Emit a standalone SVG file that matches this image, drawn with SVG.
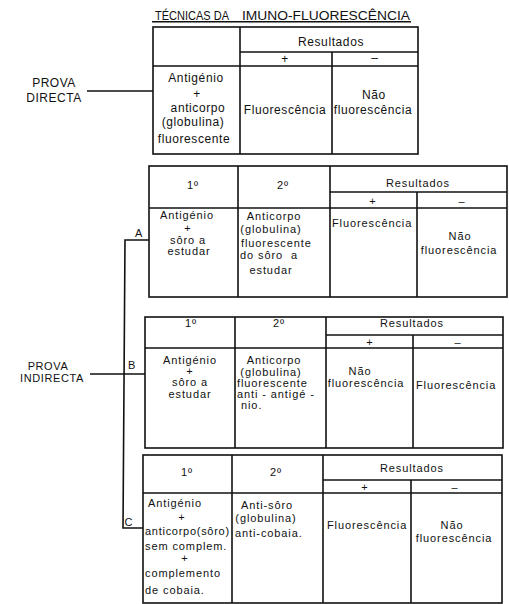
<svg xmlns="http://www.w3.org/2000/svg" width="509" height="604" viewBox="0 0 509 604">
<style>
.t{font-family:"Liberation Sans",Arial,sans-serif;font-size:11px;fill:#111;letter-spacing:0.9px}
.b{font-size:12px;letter-spacing:0.6px}
.m{text-anchor:middle}
.ln{stroke:#111;stroke-width:1.6;fill:none}
.pre{white-space:pre}
</style>
<rect width="509" height="604" fill="#fff"/>
<g id="title">
<text class="t" x="155" y="19.5" style="font-size:12px;letter-spacing:0" textLength="74" lengthAdjust="spacingAndGlyphs">TÉCNICAS DA</text>
<text class="t" x="242" y="19.5" style="font-size:12px;letter-spacing:0" textLength="168" lengthAdjust="spacingAndGlyphs">IMUNO-FLUORESCÊNCIA</text>
<line class="ln" x1="152" y1="21.8" x2="411" y2="21.8" stroke-width="1.2"/>
</g>
<g id="prova-directa">
<text class="t b m" x="54" y="87" style="letter-spacing:0.5px">PROVA</text>
<text class="t b m" x="54" y="102" style="letter-spacing:0.5px">DIRECTA</text>
</g>
<g id="prova-indirecta">
<text class="t m" x="48" y="370" style="letter-spacing:0.6px">PROVA</text>
<text class="t m" x="52" y="381.5" style="letter-spacing:0.6px">INDIRECTA</text>
</g>
<g id="connectors">
<line class="ln" x1="87" y1="91" x2="153" y2="91"/>
<line class="ln" x1="90" y1="374" x2="145" y2="374"/>
<path class="ln" d="M149 240 H125 L123 528 H143"/>
<text class="t m" x="139" y="237">A</text>
<text class="t m" x="132" y="369">B</text>
<text class="t m" x="129" y="526">C</text>
</g>
<g id="table-directa">
<rect class="ln" x="153" y="27" width="265" height="127"/>
<line class="ln" x1="240" y1="27" x2="240" y2="154"/>
<line class="ln" x1="240" y1="52" x2="418" y2="52"/>
<line class="ln" x1="153" y1="66" x2="418" y2="66"/>
<line class="ln" x1="332" y1="52" x2="332" y2="154"/>
<text class="t b m" x="331" y="46">Resultados</text>
<text class="t b m" x="285" y="63">+</text>
<text class="t b m" x="375" y="62">–</text>
<text class="t b m" x="196" y="82">Antigénio</text>
<text class="t b m" x="197" y="98">+</text>
<text class="t b m" x="198" y="112">anticorpo</text>
<text class="t b m" x="193" y="126">(globulina)</text>
<text class="t b m" x="194" y="143">fluorescente</text>
<text class="t b m" x="285" y="114">Fluorescência</text>
<text class="t b m" x="374" y="99">Não</text>
<text class="t b m" x="373" y="114">fluorescência</text>
</g>
<g id="table-a">
<rect class="ln" x="149" y="166" width="358" height="131"/>
<line class="ln" x1="238" y1="166" x2="238" y2="297"/>
<line class="ln" x1="330" y1="166" x2="330" y2="297"/>
<line class="ln" x1="330" y1="192" x2="507" y2="192"/>
<line class="ln" x1="149" y1="208" x2="507" y2="208"/>
<line class="ln" x1="417" y1="192" x2="417" y2="297"/>
<text class="t m" x="193" y="189">1º</text>
<text class="t m" x="283" y="189">2º</text>
<text class="t m" x="418" y="187">Resultados</text>
<text class="t m" x="373" y="205">+</text>
<text class="t m" x="462" y="205">–</text>
<text class="t m" x="187" y="219">Antigénio</text>
<text class="t m" x="188" y="232">+</text>
<text class="t m" x="188" y="244">sôro a</text>
<text class="t m" x="189" y="255">estudar</text>
<text class="t m" x="274" y="220">Anticorpo</text>
<text class="t m" x="271" y="233">(globulina)</text>
<text class="t" x="241" y="247">fluorescente</text>
<text class="t pre" x="240" y="259">do sôro  a</text>
<text class="t m" x="271" y="274">estudar</text>
<text class="t" x="332" y="227">Fluorescência</text>
<text class="t m" x="460" y="240">Não</text>
<text class="t m" x="459" y="254">fluorescência</text>
</g>
<g id="table-b">
<rect class="ln" x="145" y="317" width="358" height="131"/>
<line class="ln" x1="235" y1="317" x2="235" y2="448"/>
<line class="ln" x1="326" y1="317" x2="326" y2="448"/>
<line class="ln" x1="326" y1="335" x2="503" y2="335"/>
<line class="ln" x1="145" y1="348" x2="503" y2="348"/>
<line class="ln" x1="413" y1="335" x2="413" y2="448"/>
<text class="t m" x="191" y="327">1º</text>
<text class="t m" x="279" y="327">2º</text>
<text class="t m" x="412" y="327">Resultados</text>
<text class="t m" x="370" y="346">+</text>
<text class="t m" x="458" y="346">–</text>
<text class="t m" x="190" y="364">Antigénio</text>
<text class="t m" x="190" y="375">+</text>
<text class="t m" x="190" y="386">sôro a</text>
<text class="t m" x="190" y="398">estudar</text>
<text class="t m" x="274" y="364">Anticorpo</text>
<text class="t m" x="271" y="376">(globulina)</text>
<text class="t" x="237" y="387">fluorescente</text>
<text class="t" x="237" y="398">anti - antigé -</text>
<text class="t" x="241" y="409">nio.</text>
<text class="t m" x="360" y="375">Não</text>
<text class="t m" x="366" y="387">fluorescência</text>
<text class="t" x="416" y="389">Fluorescência</text>
</g>
<g id="table-c">
<rect class="ln" x="143" y="455" width="359" height="148"/>
<line class="ln" x1="232" y1="455" x2="232" y2="603"/>
<line class="ln" x1="323" y1="455" x2="323" y2="603"/>
<line class="ln" x1="323" y1="480" x2="502" y2="480"/>
<line class="ln" x1="143" y1="493" x2="502" y2="493"/>
<line class="ln" x1="411" y1="480" x2="411" y2="603"/>
<text class="t m" x="187" y="476">1º</text>
<text class="t m" x="276" y="476">2º</text>
<text class="t m" x="412" y="472">Resultados</text>
<text class="t m" x="365" y="491">+</text>
<text class="t m" x="455" y="491">–</text>
<text class="t m" x="175" y="507">Antigénio</text>
<text class="t m" x="182" y="521">+</text>
<text class="t" x="145" y="535" textLength="85" lengthAdjust="spacing">anticorpo(sôro)</text>
<text class="t" x="145" y="550">sem complem.</text>
<text class="t m" x="185" y="562">+</text>
<text class="t" x="145" y="577">complemento</text>
<text class="t" x="145" y="594">de cobaia.</text>
<text class="t m" x="267" y="509">Anti-sôro</text>
<text class="t m" x="266" y="522">(globulina)</text>
<text class="t" x="235" y="537">anti-cobaia.</text>
<text class="t" x="327" y="529">Fluorescência</text>
<text class="t m" x="452" y="529">Não</text>
<text class="t m" x="454" y="542">fluorescência</text>
</g>
</svg>
